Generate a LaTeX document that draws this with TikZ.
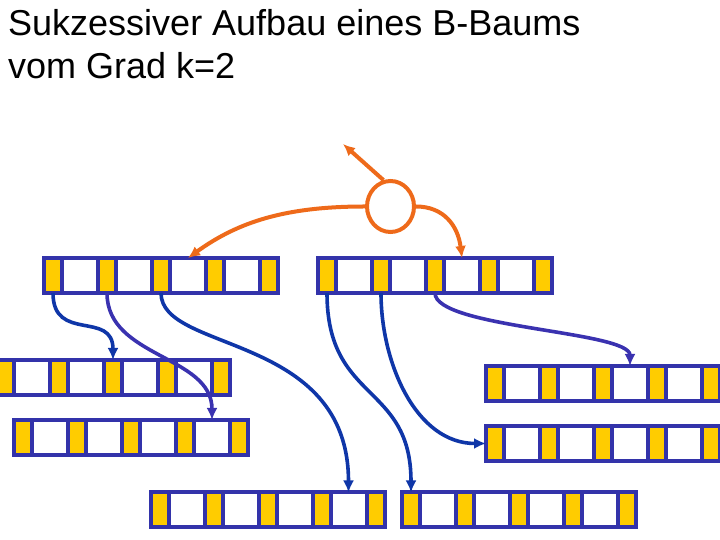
\documentclass[tikz,border=0pt]{standalone}
\usepackage{fontspec}
\setmainfont{Liberation Sans}
\usetikzlibrary{arrows.meta,positioning,shapes.geometric}

\definecolor{nodeblue}{HTML}{3333AA}
\definecolor{ptryellow}{HTML}{FFCC00}
\definecolor{linkblue}{HTML}{0F36A8}
\definecolor{linkviolet}{HTML}{3A32B0}
\definecolor{rootorange}{HTML}{EE6A1A}

% one B-tree page: five pointer cells p1..p5 and four key cells k1..k4
\newcommand{\btnode}[3]{%
  \node[ptr,anchor=west] (#1-p1) at (#2,#3) {};
  \foreach \i [evaluate=\i as \j using int(\i+1)] in {1,...,4} {
    \node[key,right=0pt of #1-p\i] (#1-k\i) {};
    \node[ptr,right=0pt of #1-k\i] (#1-p\j) {};
  }
}

\begin{document}
\begin{tikzpicture}[x=1pt,y=1pt,
    ptr/.style={draw=nodeblue,fill=ptryellow,line width=4pt,
      minimum width=18pt,minimum height=35pt,inner sep=0pt,outer sep=0pt},
    key/.style={ptr,fill=white,minimum width=36pt},
    blink/.style={draw=linkblue,line width=3.6pt,-{Latex[length=12pt,width=11pt]}},
    vlink/.style={blink,draw=linkviolet},
    olink/.style={draw=rootorange,line width=4pt,-{Latex[length=12pt,width=11pt]}}]
  \useasboundingbox (0,0) rectangle (720,540);

  \node[anchor=north west,align=left,inner sep=0pt,
        font=\fontsize{36}{43}\selectfont] (title) at (8,531)
       {Sukzessiver Aufbau eines B-Baums\\vom Grad k=2};

  % upper level
  \node[ellipse,draw=rootorange,line width=4pt,minimum width=47pt,
        minimum height=51pt,inner sep=0pt] (root) at (390.5,333.5) {};
  \btnode{tl}{44}{264.5}
  \btnode{tr}{318}{264.5}

  % lower level
  \btnode{la}{-4}{162.5}
  \btnode{lb}{14}{102.5}
  \btnode{ra}{486}{156.5}
  \btnode{rb}{486}{96.5}
  \btnode{bl}{150.5}{30}
  \btnode{br}{402}{30}

  \coordinate (up) at (343,396);
  \draw[olink] (root.105) -- (up);
  \draw[olink] (root.west) .. controls +(-80,0) and +(50,36) .. (tl-k3.north);
  \draw[olink] (root.east) .. controls +(28,0) and +(-4,32) .. (tr-k3.north);

  \draw[blink] (tl-p1.south) .. controls +(0,-50) and +(0,50) .. (la-p3.north);
  \draw[vlink] (tl-p2.south) .. controls +(0,-65) and +(0,65) .. (lb-k4.north);
  \draw[blink] (tl-p3.south) .. controls +(0,-60) and +(0,160) .. (bl-k4.north);
  \draw[blink] (tr-p1.south) .. controls +(0,-110) and +(0,110) .. (br-p1.north);
  \draw[blink] (tr-p2.south) .. controls +(0,-70) and +(-70,0) .. (rb-p1.west);
  \draw[vlink] (tr-p3.south) .. controls +(0,-35) and +(0,35) .. (ra-k3.north);
\end{tikzpicture}
\end{document}
